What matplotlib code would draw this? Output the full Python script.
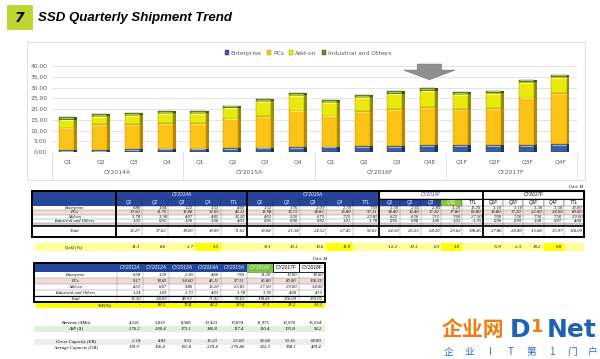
import numpy as np
import matplotlib.pyplot as plt
from matplotlib.patches import Rectangle, Patch
from matplotlib.transforms import blended_transform_factory

# quarterly shipments, M units
quarters = ['Q1', 'Q2', 'Q3', 'Q4', 'Q1', 'Q2', 'Q3', 'Q4',
            'Q1', 'Q2', 'Q3', 'Q4E', 'Q1F', 'Q2F', 'Q3F', 'Q4F']
years = ['CY2014A', 'CY2015A', 'CY2016F', 'CY2017F']
enterprise = [0.80, 1.04, 1.22, 1.53, 1.52, 1.76, 2.03, 2.39,
              2.50, 2.65, 2.85, 3.20, 3.10, 3.10, 3.30, 3.50]
pcs = [10.50, 11.76, 11.80, 12.05, 11.98, 13.72, 14.83, 16.80,
       14.40, 16.40, 17.20, 17.80, 16.80, 17.20, 22.00, 24.00]
addon = [3.78, 3.90, 4.07, 4.45, 4.65, 5.20, 6.75, 7.25,
         6.25, 6.50, 7.15, 7.60, 7.00, 7.20, 7.30, 7.50]
industrial = [1.05, 0.92, 1.00, 1.06, 0.95, 0.90, 0.92, 1.01,
              0.95, 0.98, 1.00, 1.02, 0.96, 0.99, 1.08, 0.97]
q_total = [16.27, 17.62, 18.09, 19.09, 19.08, 21.58, 24.52, 27.45,
           24.10, 26.53, 28.20, 29.62, 27.86, 28.49, 33.68, 35.97]
qoq = [11.3, 8.6, 2.7, 5.5, -0.1, 13.1, 13.6, 11.9,
       -12.2, 10.1, 6.3, 5.0, -5.9, 2.3, 18.2, 6.8]

# yearly TTL column of the quarterly table
ent_ttl = [4.60, 7.69, 11.20, 13.00]
pcs_ttl = [46.11, 57.31, 65.80, 80.00]
add_ttl = [16.20, 23.85, 27.50, 29.00]
ind_ttl = [4.03, 3.78, 3.95, 4.00]
tot_ttl = [71.02, 92.63, 108.45, 126.00]

# annual table
a_years = ['CY2011A', 'CY2012A', 'CY2013A', 'CY2014A', 'CY2015A', 'CY2016F', 'CY2017F', 'CY2018F']
a_ent = [0.58, 1.29, 2.45, 4.60, 7.69, 11.20, 13.00, 14.60]
a_pcs = [9.17, 18.65, 34.60, 46.11, 57.31, 65.80, 80.00, 106.30]
a_add = [4.31, 6.67, 9.80, 16.20, 23.85, 27.50, 29.00, 34.00]
a_ind = [1.24, 1.43, 2.71, 4.03, 3.78, 3.95, 4.00, 4.15]
a_tot = [15.30, 28.03, 49.59, 71.02, 92.63, 108.45, 126.00, 159.05]
a_yoy = ['-', '83.2', '76.8', '43.2', '30.4', '17.1', '16.2', '26.2']
revenue = ['4,226', '5,819', '8,586', '10,423', '10,874', '11,975', '13,076', '15,034']
asp = ['276.2', '200.4', '173.1', '146.8', '117.4', '110.4', '103.8', '94.2']
gross_cap = ['2.14', '4.83', '9.51', '16.29', '25.60', '36.04', '50.16', '69.89']
avg_cap = ['139.9', '166.4', '191.8', '229.4', '276.86', '332.3', '398.1', '439.4']

row_names = ['Enterprise', 'PCs', 'Add-on', 'Industrial and Others']
series = ['Enterprise', 'PCs', 'Add-on', 'Industrial and Others']
logo_sub = ['企', '业', 'I', 'T', '第', '1', '门', '户']

BLUE = '#27459a'
PINK = '#f2dcdb'
GREY_TXT = '#595959'

fig = plt.figure(figsize=(6, 3.59), dpi=100)
bg = fig.add_axes([0, 0, 1, 1])
bg.set_xlim(0, 600)
bg.set_ylim(359, 0)
bg.axis('off')


def box(x0, y0, x1, y1, fc='none', ec='none', lw=0.0, z=1):
    bg.add_patch(Rectangle((x0, y0), x1 - x0, y1 - y0, facecolor=fc,
                           edgecolor=ec, linewidth=lw, zorder=z))


def hline(y, x0, x1, lw=0.3, color='#7f7f7f', z=3):
    bg.plot([x0, x1], [y, y], color=color, lw=lw, zorder=z, solid_capstyle='butt')


def vline(x, y0, y1, lw=0.3, color='#7f7f7f', z=3):
    bg.plot([x, x], [y0, y1], color=color, lw=lw, zorder=z, solid_capstyle='butt')


def txt(x, y, s, size=3.3, ha='center', color='black', family='Liberation Serif',
        style='italic', weight='normal'):
    bg.text(x, y, s, ha=ha, va='center', fontsize=size, color=color, family=family,
            style=style, weight=weight, zorder=5)


# title
box(7, 5, 33, 30, fc='#bdd730')
bg.text(20, 18, '7', ha='center', va='center', fontsize=10, weight='bold',
        style='italic', family='DejaVu Sans')
bg.text(38, 18, 'SSD Quarterly Shipment Trend', ha='left', va='center', fontsize=9.5,
        weight='bold', style='italic', family='Liberation Sans')

# chart frame
box(27, 42, 585, 180, fc='white', ec='#d9d9d9', lw=0.6, z=0)

# ---------- stacked bar chart ----------
ax = fig.add_axes([52 / 600, 1 - 152 / 359, 525 / 600, 86 / 359])
ax.patch.set_alpha(0)
x = np.arange(len(quarters))
ax.set_xlim(-0.5, len(quarters) - 0.5)
ax.set_ylim(0, 40)
ax.set_yticks(np.arange(0, 41, 5))
ax.set_yticklabels(['%.2f' % v for v in np.arange(0, 41, 5)], fontsize=4.3, color=GREY_TXT)
ax.set_xticks([])
ax.tick_params(axis='y', length=0, pad=3.5)
ax.yaxis.grid(True, color='#d9d9d9', lw=0.5)
ax.set_axisbelow(True)
for sp in ax.spines.values():
    sp.set_visible(False)

styles = [  # front, side, highlight
    ('#3b5f9f', '#1d3461', '#9ab9e8'),
    ('#fbc316', '#b88700', '#ffe27a'),
    ('#e9e90e', '#8e8e00', '#ffff8c'),
    ('#6a8c28', '#3c5810', '#a9c860'),
]
fw = 0.46
off = -0.05
bottom = np.zeros(len(quarters))
for vals, (fc, sc, hc) in zip([enterprise, pcs, addon, industrial], styles):
    vals = np.array(vals)
    ax.bar(x + off, vals, fw, bottom=bottom, color=fc, edgecolor=sc, linewidth=0.3, zorder=2)
    ax.bar(x + off + fw / 2 + 0.045, vals, 0.09, bottom=bottom, color=sc, linewidth=0, zorder=2)
    ax.hlines(bottom + vals - 0.35, x + off - fw / 2 + 0.03, x + off + fw / 2 - 0.03,
              color=hc, lw=0.7, zorder=3)
    bottom += vals

handles = [Patch(facecolor=s[0], edgecolor=s[1], linewidth=0.3) for s in styles]
ax.legend(handles, series, loc='center', bbox_to_anchor=(308 / 600, 1 - 53 / 359),
          bbox_transform=fig.transFigure, ncol=4, frameon=False, fontsize=4.3,
          handlelength=0.7, handleheight=0.7, handletextpad=0.3, columnspacing=0.9,
          labelcolor=GREY_TXT)

tr = blended_transform_factory(ax.transData, ax.transAxes)
for i, q in enumerate(quarters):
    ax.text(i, -0.116, q, transform=tr, ha='center', va='center', fontsize=4.3, color=GREY_TXT)
for k, yr in enumerate(years):
    ax.text(4 * k + 1.5, -0.244, yr, transform=tr, ha='center', va='center',
            fontsize=4.3, color=GREY_TXT)
for b in np.arange(-0.5, len(quarters), 4):
    ax.plot([b, b], [0, -0.326], transform=tr, color='#d9d9d9', lw=0.5, clip_on=False)

# grey down arrow above Q4E
ai = quarters.index('Q4E')
arrow = [(ai - 0.37, 40.9), (ai + 0.37, 40.9), (ai + 0.37, 38.1), (ai + 0.78, 38.1),
         (ai, 33.6), (ai - 0.78, 38.1), (ai - 0.37, 38.1)]
ax.add_patch(plt.Polygon(arrow, closed=True, facecolor='#8f8f8f', edgecolor='#6f6f6f',
                         linewidth=0.4, clip_on=False, zorder=4))

# ---------- quarterly table ----------
txt(576, 187, 'Unit: M', size=3.2)
blocks = [(116, 26.2), (247, 26.4), (379, 20.8), (483, 20.2)]
rows = [206, 210.3, 214.6, 218.9, 223.2]
seg_q = [enterprise, pcs, addon, industrial]
seg_ttl = [ent_ttl, pcs_ttl, add_ttl, ind_ttl]
T_L, T_R = 32, 584

box(T_L, 191, T_R, 237, fc='white')
box(T_L, rows[1], T_R, rows[2], fc=PINK)
box(T_L, 223.2, T_R, 225.6, fc='#d0d0d0')
box(T_L, 191, 116, 206, fc=BLUE)
for r, name in enumerate(row_names):
    txt(74, (rows[r] + rows[r + 1]) / 2, name)
    hline(rows[r + 1], T_L, T_R)
txt(74, 231, 'Total')
for k, (x0, w) in enumerate(blocks):
    heads = quarters[4 * k:4 * k + 4] + ['TTL']
    x1 = x0 + 5 * w
    if k < 2:
        box(x0, 191, x1, 199, fc=BLUE)
        txt((x0 + x1) / 2, 195, years[k], color='white', family='Liberation Sans')
    else:
        txt((x0 + x1) / 2, 195, years[k], color='#4a3f9a' if k == 2 else 'black',
            family='Liberation Sans')
    for j in range(5):
        c0 = x0 + j * w
        if k < 2 or (k == 2 and j < 3):
            fc, tc, ec = BLUE, 'white', '#1b2f6b'
        elif k == 2 and j == 3:
            fc, tc, ec = '#8cc540', '#f2f9e0', '#5d8a26'
        else:
            fc, tc, ec = 'white', 'black', '#404040'
        box(c0, 199, c0 + w, 206, fc=fc, ec=ec, lw=0.3, z=2)
        txt(c0 + w / 2, 202.5, heads[j], color=tc, family='Liberation Sans')
        for r in range(4):
            vals = seg_q[r][4 * k:4 * k + 4] + [seg_ttl[r][k]]
            txt(c0 + w - 1.5, (rows[r] + rows[r + 1]) / 2, '%.2f' % vals[j], ha='right')
        tv = q_total[4 * k:4 * k + 4] + [tot_ttl[k]]
        txt(c0 + w - 1.5, 231, '%.2f' % tv[j], ha='right')
        vline(c0, 206, 237)
    vline(x0, 191, 237, lw=1.3, color='black', z=4)
vline(116, 191, 237, lw=0.6, color='black')
hline(225.8, T_L, T_R, lw=1.2, color='black', z=4)
box(T_L, 191, T_R, 237, ec='black', lw=1.4, z=4)
box(379, 191, T_R, 199, ec='black', lw=0.8, z=4)

# QoQ row
box(35, 243, T_R, 251, fc='#ffff99')
txt(74, 247, 'QoQ (%)')
for k, (x0, w) in enumerate(blocks):
    for j in range(4):
        c0 = x0 + j * w
        if j == 3:
            box(c0, 243, c0 + w, 251, fc='#ffff00', z=2)
        txt(c0 + w - 2, 247, '%.1f' % qoq[4 * k + j], ha='right', size=3.4)

# ---------- annual table ----------
txt(320, 259, 'Unit: M', size=3.2)
A_L, A_C, CW = 34, 117, 26
A_R = A_C + CW * len(a_years)
arows = [272, 278, 284, 290, 296, 302]
box(A_L, 263, A_R, 302, fc='white')
box(A_L, arows[1], A_R, arows[2], fc=PINK)
box(A_L, 263, A_C + 5 * CW, 272, fc=BLUE)
a_seg = [a_ent, a_pcs, a_add, a_ind, a_tot]
for r, name in enumerate(row_names + ['Total']):
    txt(75, (arows[r] + arows[r + 1]) / 2, name)
    hline(arows[r + 1], A_L, A_R)
for i, yr in enumerate(a_years):
    c0 = A_C + i * CW
    if i < 5:
        tc = 'white'
    elif i == 5:
        box(c0, 263, c0 + CW, 272, fc='#7fc148', ec='#4f8a2a', lw=0.4, z=2)
        tc = '#eaf6d8'
    else:
        box(c0, 263, c0 + CW, 272, fc='white', ec='black', lw=0.6, z=2)
        tc = 'black'
    txt(c0 + CW / 2, 267.5, yr, color=tc, family='Liberation Sans', size=3.5)
    for r in range(5):
        txt(c0 + CW - 2, (arows[r] + arows[r + 1]) / 2, '%.2f' % a_seg[r][i], ha='right')
    vline(c0, 272, 302)
hline(296, A_L, A_R, lw=0.8, color='black', z=4)
box(A_L, 263, A_R, 302, ec='black', lw=1.4, z=4)

box(36, 302, A_R, 308, fc='#ffff00')
txt(112, 305, 'YoY(%)', ha='right')
for i, v in enumerate(a_yoy):
    c0 = A_C + i * CW
    txt(c0 + CW - 3, 305, v, ha='right')

box(A_L, 325.5, A_R, 331.5, fc='#e2efda')
box(A_L, 338.5, A_R, 344.5, fc='#ededed')
extra = [('Revenue ($Mn)', revenue, 322.5), ('ASP ($)', asp, 328.5),
         ('Gross Capacity (EB)', gross_cap, 341.5), ('Average Capacity (GB)', avg_cap, 347.5)]
for name, vals, yy in extra:
    txt(76, yy, name, size=3.4)
    for i, v in enumerate(vals):
        txt(A_C + i * CW + CW - 3, yy, v, ha='right', size=3.4)

# watermark logo
bg.text(442, 330, '企业网', ha='left', va='center', fontsize=15, weight='bold',
        color='#f07c12', family=['Noto Sans CJK SC', 'DejaVu Sans'])
bg.text(510, 330, 'D', ha='left', va='center', fontsize=18, weight='bold',
        color='#1f62b5', family='DejaVu Sans')
bg.text(531, 327, '1', ha='left', va='center', fontsize=13, weight='bold',
        color='#f07c12', family='DejaVu Sans')
bg.text(547, 330, 'Net', ha='left', va='center', fontsize=18, weight='bold',
        color='#1f62b5', family='DejaVu Sans')
for i, ch in enumerate(logo_sub):
    bg.text(449 + i * 20.5, 352, ch, ha='center', va='center', fontsize=7,
            color='#2a6cc0', family=['Noto Sans CJK SC', 'DejaVu Sans'])

fig.savefig('out.png', dpi=100)
